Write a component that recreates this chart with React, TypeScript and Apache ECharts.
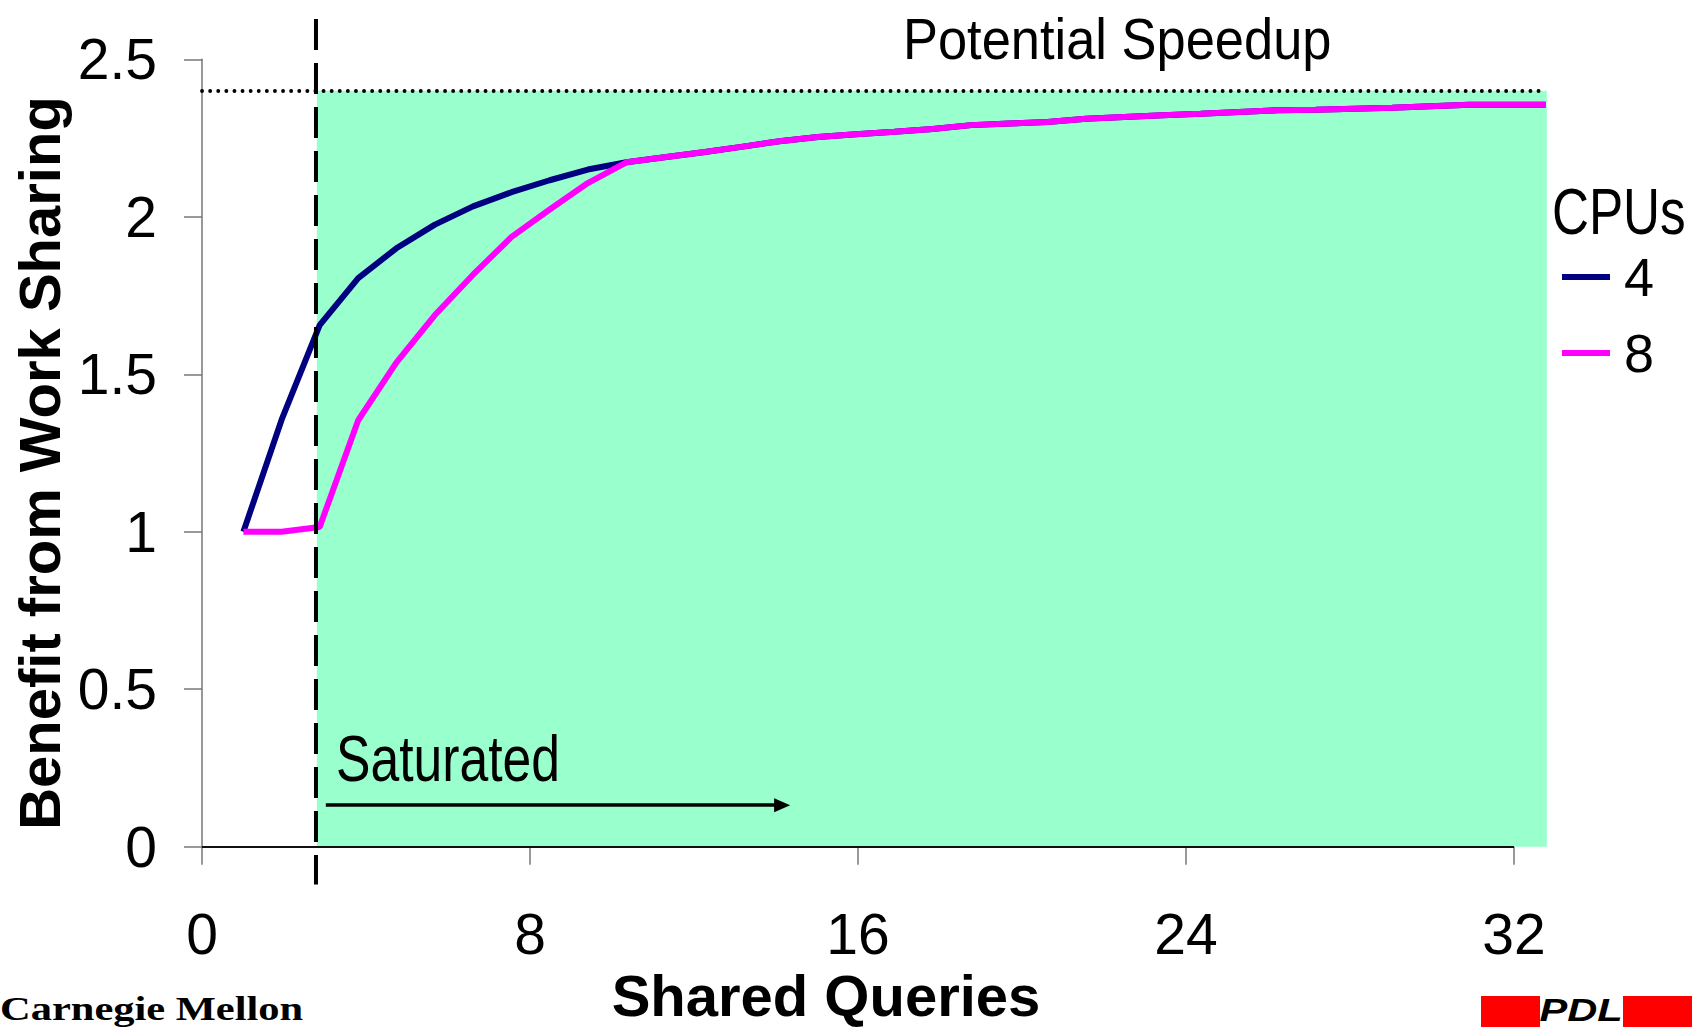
import React, { useEffect, useRef } from "react";
import * as echarts from "echarts";

// ---------- data ----------
const sharedQueries = [
  1.01, 1.94, 2.87, 3.81, 4.74, 5.68, 6.61, 7.55, 8.48, 9.41,
  10.35, 11.28, 12.22, 13.15, 14.08, 15.02, 15.95, 16.89, 17.82, 18.76,
  19.69, 20.62, 21.56, 22.49, 23.43, 24.36, 25.29, 26.23, 27.16, 28.1,
  29.03, 29.96, 30.9, 31.83, 32.77,
];
const cpu4 = [
  1.0, 1.355, 1.656, 1.805, 1.9, 1.975, 2.033, 2.078, 2.116, 2.15,
  2.173, 2.189, 2.205, 2.222, 2.24, 2.253, 2.262, 2.27, 2.279, 2.291,
  2.296, 2.301, 2.311, 2.317, 2.322, 2.327, 2.333, 2.338, 2.34, 2.343,
  2.346, 2.351, 2.356, 2.356, 2.356,
];
const cpu8 = [
  1.0, 1.0, 1.015, 1.354, 1.537, 1.688, 1.816, 1.936, 2.023, 2.107,
  2.173, 2.189, 2.205, 2.222, 2.24, 2.253, 2.262, 2.27, 2.279, 2.291,
  2.296, 2.301, 2.311, 2.317, 2.322, 2.327, 2.333, 2.338, 2.34, 2.343,
  2.346, 2.351, 2.356, 2.356, 2.356,
];
const seriesNames = ["4", "8"];
const seriesColors = ["#000080", "#ff00ff"];
const xTickValues = [0, 8, 16, 24, 32];
const yTickInterval = 0.5;
const potentialSpeedup = 2.4;
const saturationStart = 2.78;
const saturatedZoneEnd = 32.8;
const arrowRange = [3.02, 14.15];
const arrowLevel = 0.132;

const legendTitle = "CPUs";
const xAxisTitle = "Shared Queries";
const yAxisTitle = "Benefit from Work Sharing";
const speedupNote = "Potential Speedup";
const saturatedNote = "Saturated";
const leftLogo = "Carnegie Mellon";
const rightLogo = "PDL";

const FONT = "'Liberation Sans', Arial, Helvetica, sans-serif";
const SERIF = "'Liberation Serif', 'Times New Roman', serif";

export default function App() {
  const ref = useRef<HTMLDivElement>(null);

  useEffect(() => {
    if (!ref.current) return;
    const chart = echarts.init(ref.current, undefined, { renderer: "svg" });

    const option: any = {
      animation: false,
      backgroundColor: "#ffffff",
      grid: { left: 202, right: 153.2, top: 59.3, bottom: 180.3, containLabel: false },
      legend: {
        data: seriesNames,
        orient: "vertical",
        left: 1562,
        top: 250,
        padding: 0,
        icon: "rect",
        itemWidth: 48,
        itemHeight: 6,
        itemGap: 22,
        textStyle: {
          fontSize: 54,
          fontFamily: FONT,
          color: "#000",
          lineHeight: 54,
          padding: [0, 0, 0, 9],
        },
      },
      xAxis: {
        type: "value",
        min: 0,
        max: saturatedZoneEnd,
        axisLine: { show: false },
        splitLine: { show: false },
        axisTick: {
          show: true,
          customValues: xTickValues,
          length: 18,
          lineStyle: { color: "#777", width: 1.5 },
        },
        axisLabel: {
          customValues: xTickValues,
          fontSize: 57,
          fontFamily: FONT,
          color: "#000",
          margin: 59,
        },
      },
      yAxis: {
        type: "value",
        min: 0,
        max: 2.5,
        interval: yTickInterval,
        axisLine: { show: true, lineStyle: { color: "#777", width: 1.5 } },
        axisTick: { show: true, length: 18, lineStyle: { color: "#777", width: 1.5 } },
        splitLine: { show: false },
        axisLabel: {
          fontSize: 57,
          fontFamily: FONT,
          color: "#000",
          margin: 45,
          padding: [12, 0, 0, 0],
        },
      },
      series: [
        {
          type: "line",
          name: "saturatedZone",
          data: [],
          silent: true,
          z: 1,
          markArea: {
            silent: true,
            itemStyle: { color: "#99ffcc", opacity: 1 },
            label: { show: false },
            data: [[{ coord: [saturationStart + 0.02, 0] }, { coord: [saturatedZoneEnd, potentialSpeedup] }]],
          },
        },
        {
          type: "line",
          name: "speedupLine",
          data: [],
          silent: true,
          z: 2,
          markLine: {
            silent: true,
            symbol: ["none", "none"],
            label: { show: false },
            lineStyle: { color: "#000", width: 3.8, type: [0.1, 8], cap: "round" },
            data: [[{ coord: [0, potentialSpeedup] }, { coord: [32.65, potentialSpeedup] }]],
          },
        },
        {
          type: "line",
          name: "xAxisLine",
          data: [],
          silent: true,
          z: 2,
          markLine: {
            silent: true,
            symbol: ["none", "none"],
            label: { show: false },
            lineStyle: { color: "#111", width: 1.8, type: "solid" },
            data: [[{ coord: [0, 0] }, { coord: [xTickValues[xTickValues.length - 1], 0] }]],
          },
        },
        {
          type: "line",
          name: "saturatedArrow",
          data: [],
          silent: true,
          z: 2,
          markLine: {
            silent: true,
            symbol: ["none", "triangle"],
            symbolSize: [14, 16],
            label: { show: false },
            lineStyle: { color: "#000", width: 3.5, type: "solid" },
            itemStyle: { color: "#000" },
            data: [[{ coord: [arrowRange[0], arrowLevel] }, { coord: [arrowRange[1], arrowLevel] }]],
          },
        },
        {
          type: "line",
          name: seriesNames[0],
          data: sharedQueries.map((x, i) => [x, cpu4[i]]),
          symbol: "none",
          lineStyle: { color: seriesColors[0], width: 6 },
          itemStyle: { color: seriesColors[0] },
          z: 3,
        },
        {
          type: "line",
          name: seriesNames[1],
          data: sharedQueries.map((x, i) => [x, cpu8[i]]),
          symbol: "none",
          lineStyle: { color: seriesColors[1], width: 6 },
          itemStyle: { color: seriesColors[1] },
          z: 4,
        },
      ],
    };

    chart.setOption(option);

    const toPx = (x: number, y: number) =>
      chart.convertToPixel({ xAxisIndex: 0, yAxisIndex: 0 }, [x, y]) as number[];
    const dashTopPx = toPx(saturationStart, 2.628);
    const dashBottomPx = toPx(saturationStart, -0.12);

    const txt = (t: string, x: number, y: number, size: number, extra: any = {}, el: any = {}) => ({
      type: "text",
      x,
      y,
      z: 10,
      ...el,
      style: {
        text: t,
        fontSize: size,
        fontFamily: FONT,
        fill: "#000",
        align: "left",
        textAlign: "left",
        verticalAlign: "middle",
        textVerticalAlign: "middle",
        ...extra,
      },
    });

    chart.setOption({
      graphic: [
        {
          type: "line",
          z: 5,
          shape: { x1: dashTopPx[0], y1: dashTopPx[1], x2: dashBottomPx[0], y2: dashBottomPx[1] },
          style: { stroke: "#000", lineWidth: 4, lineDash: [31, 13] },
        },
        txt(yAxisTitle, 39, 463, 58, { fontWeight: "bold", align: "center", textAlign: "center" }, { rotation: Math.PI / 2 }),
        txt(xAxisTitle, 826, 995, 58, { fontWeight: "bold", align: "center", textAlign: "center" }),
        txt(speedupNote, 903, 39, 57, {}, { scaleX: 0.92 }),
        txt(saturatedNote, 336, 758, 65, {}, { scaleX: 0.795 }),
        txt(legendTitle, 1552, 212, 64, {}, { scaleX: 0.8 }),
        txt(leftLogo, 0, 1009, 34, { fontWeight: "bold", fontFamily: SERIF }, { scaleX: 1.25 }),
        { type: "rect", shape: { x: 1481, y: 996, width: 59, height: 31 }, style: { fill: "#ff0000" }, z: 10 },
        { type: "rect", shape: { x: 1623, y: 996, width: 69, height: 31 }, style: { fill: "#ff0000" }, z: 10 },
        txt(rightLogo, 1581, 1010, 32, { fontWeight: "bold", fontStyle: "italic", align: "center", textAlign: "center" }, { scaleX: 1.3 }),
      ],
    });

    return () => chart.dispose();
  }, []);

  return (
    <div
      ref={ref}
      style={{ position: "fixed", left: 0, top: 0, width: 1700, height: 1027, background: "#fff" }}
    />
  );
}
